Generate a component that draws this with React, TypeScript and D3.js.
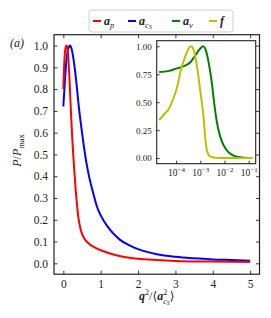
import { useEffect, useRef } from "react";
import * as d3 from "d3";

// main panel: normalised power vs q^2/<a_cS^2>
const apQ = [0, 0.02, 0.05, 0.08, 0.1, 0.13, 0.16, 0.2, 0.24, 0.28, 0.32, 0.36, 0.4, 0.45, 0.5, 0.6, 0.7, 0.85, 1.0, 1.25, 1.5, 2.0, 2.5, 3.0, 4.0, 5.0];
const apP = [0.8, 0.9, 0.98, 1.0, 0.995, 0.95, 0.86, 0.71, 0.57, 0.46, 0.36, 0.28, 0.215, 0.165, 0.135, 0.105, 0.088, 0.072, 0.06, 0.045, 0.034, 0.021, 0.015, 0.011, 0.008, 0.006];
const acsQ = [0, 0.05, 0.1, 0.15, 0.18, 0.22, 0.27, 0.33, 0.42, 0.5, 0.6, 0.7, 0.78, 0.9, 1.0, 1.2, 1.5, 1.8, 2.0, 2.5, 3.0, 3.5, 4.0, 4.5, 5.0];
const acsP = [0.72, 0.86, 0.96, 0.995, 1.0, 0.985, 0.94, 0.86, 0.71, 0.6, 0.48, 0.39, 0.335, 0.26, 0.22, 0.165, 0.11, 0.08, 0.065, 0.042, 0.03, 0.023, 0.018, 0.015, 0.012];

// inset: log10 of q^2/<a_cS^2> and normalised power
const anuLogQ = [-4.7, -4.3, -4.0, -3.7, -3.4, -3.2, -3.0, -2.88, -2.75, -2.65, -2.52, -2.43, -2.32, -2.2, -2.05, -1.85, -1.6, -1.3, -1.0, -0.85];
const anuP = [0.77, 0.78, 0.8, 0.82, 0.86, 0.92, 0.98, 1.0, 0.95, 0.85, 0.67, 0.5, 0.33, 0.21, 0.12, 0.055, 0.02, 0.006, 0.002, 0.002];
const fLogQ = [-4.7, -4.5, -4.3, -4.1, -3.95, -3.8, -3.6, -3.45, -3.37, -3.25, -3.12, -3.0, -2.87, -2.78, -2.7, -2.6, -2.45, -2.2, -1.5, -0.85];
const fP = [0.34, 0.39, 0.44, 0.54, 0.64, 0.79, 0.92, 0.99, 1.0, 0.95, 0.8, 0.6, 0.38, 0.15, 0.05, 0.015, 0.005, 0.002, 0.001, 0.001];

const mainXTicks = [0, 1, 2, 3, 4, 5];
const mainYTicks = [0, 0.1, 0.2, 0.3, 0.4, 0.5, 0.6, 0.7, 0.8, 0.9, 1.0];
const insetYTicks = [0, 0.25, 0.5, 0.75, 1.0];
const insetXTicks = [1e-4, 1e-3, 1e-2, 1e-1];
const insetXExps = ["\u22124", "\u22123", "\u22122", "\u22121"];

const FONT = "Liberation Serif, DejaVu Serif, serif";
const INK = "#222";

export default function App() {
  const svgRef = useRef<SVGSVGElement>(null);

  useEffect(() => {
    if (!svgRef.current) return;
    const svg = d3.select(svgRef.current);
    svg.selectAll("*").remove();

    const main = { left: 54, right: 259.5, top: 34.7, bottom: 274.2 };
    const inset = { left: 156.7, right: 255.7, top: 40.7, bottom: 163.7 };

    const x = d3.scaleLinear().domain([-0.25, 5.25]).range([main.left, main.right]);
    const y = d3.scaleLinear().domain([-0.05, 1.05]).range([main.bottom, main.top]);
    const xi = d3.scaleLog().domain([Math.pow(10, -4.8), Math.pow(10, -0.71)]).range([inset.left, inset.right]);
    const yi = d3.scaleLinear().domain([-0.05, 1.05]).range([inset.bottom, inset.top]);

    const defs = svg.append("defs");
    defs.append("clipPath").attr("id", "clipMain").append("rect")
      .attr("x", main.left).attr("y", main.top)
      .attr("width", main.right - main.left).attr("height", main.bottom - main.top);
    defs.append("clipPath").attr("id", "clipInset").append("rect")
      .attr("x", inset.left).attr("y", inset.top)
      .attr("width", inset.right - inset.left).attr("height", inset.bottom - inset.top);

    const styleAxis = (g: d3.Selection<SVGGElement, unknown, null, undefined>) => {
      g.attr("font-family", FONT);
      g.selectAll(".domain").remove();
      g.selectAll(".tick line").attr("stroke", INK).attr("stroke-width", 0.9);
      g.selectAll("text").attr("fill", INK).style("font-family", FONT);
    };

    // main curves
    const mainLine = d3.line<[number, number]>()
      .x((d) => x(d[0])).y((d) => y(d[1])).curve(d3.curveMonotoneX);
    const gm = svg.append("g").attr("clip-path", "url(#clipMain)");
    gm.append("path").datum(acsQ.map((q, i) => [q, acsP[i]] as [number, number]))
      .attr("d", mainLine).attr("fill", "none").attr("stroke", "#0000ff").attr("stroke-width", 2);
    gm.append("path").datum(apQ.map((q, i) => [q, apP[i]] as [number, number]))
      .attr("d", mainLine).attr("fill", "none").attr("stroke", "#ff0000").attr("stroke-width", 2);

    // main axes
    const tk = 3.5;
    svg.append("g").attr("transform", `translate(0,${main.bottom})`)
      .call(d3.axisBottom(x).tickValues(mainXTicks).tickSize(-tk).tickPadding(6).tickFormat(d3.format("d")))
      .call(styleAxis).selectAll("text").attr("font-size", 11.5);
    svg.append("g").attr("transform", `translate(0,${main.top})`)
      .call(d3.axisTop(x).tickValues(mainXTicks).tickSize(-tk).tickFormat(() => ""))
      .call(styleAxis);
    svg.append("g").attr("transform", `translate(${main.left},0)`)
      .call(d3.axisLeft(y).tickValues(mainYTicks).tickSize(-tk).tickPadding(6).tickFormat(d3.format(".1f")))
      .call(styleAxis).selectAll("text").attr("font-size", 11.5);
    svg.append("g").attr("transform", `translate(${main.right},0)`)
      .call(d3.axisRight(y).tickValues(mainYTicks).tickSize(-tk).tickFormat(() => ""))
      .call(styleAxis);
    svg.append("rect")
      .attr("x", main.left).attr("y", main.top)
      .attr("width", main.right - main.left).attr("height", main.bottom - main.top)
      .attr("fill", "none").attr("stroke", INK).attr("stroke-width", 1.2);

    // inset
    svg.append("rect")
      .attr("x", inset.left).attr("y", inset.top)
      .attr("width", inset.right - inset.left).attr("height", inset.bottom - inset.top)
      .attr("fill", "#fff");
    const insetLine = d3.line<[number, number]>()
      .x((d) => xi(d[0])).y((d) => yi(d[1])).curve(d3.curveMonotoneX);
    const gi = svg.append("g").attr("clip-path", "url(#clipInset)");
    gi.append("path").datum(anuLogQ.map((e, i) => [Math.pow(10, e), anuP[i]] as [number, number]))
      .attr("d", insetLine).attr("fill", "none").attr("stroke", "#008000").attr("stroke-width", 2);
    gi.append("path").datum(fLogQ.map((e, i) => [Math.pow(10, e), fP[i]] as [number, number]))
      .attr("d", insetLine).attr("fill", "none").attr("stroke", "#bfbf00").attr("stroke-width", 2);

    svg.append("g").attr("transform", `translate(${inset.left},0)`)
      .call(d3.axisLeft(yi).tickValues(insetYTicks).tickSize(-3).tickPadding(5).tickFormat(d3.format(".2f")))
      .call(styleAxis).selectAll("text").attr("font-size", 9);
    const gxi = svg.append("g").attr("transform", `translate(0,${inset.bottom})`)
      .call(d3.axisBottom(xi).tickValues(insetXTicks).tickSize(-3).tickFormat(() => ""))
      .call(styleAxis);
    gxi.selectAll<SVGGElement, number>(".tick").each(function (_d, i) {
      const t = d3.select(this).append("text")
        .attr("y", 12).attr("text-anchor", "middle")
        .attr("fill", INK).style("font-family", FONT).attr("font-size", 9.5);
      t.append("tspan").text("10");
      t.append("tspan").attr("dy", -4).attr("font-size", 7).text(insetXExps[i]);
    });
    svg.append("rect")
      .attr("x", inset.left).attr("y", inset.top)
      .attr("width", inset.right - inset.left).attr("height", inset.bottom - inset.top)
      .attr("fill", "none").attr("stroke", INK).attr("stroke-width", 1.1);

    // labels
    const yl = svg.append("text")
      .attr("transform", `translate(21,${(main.top + main.bottom) / 2 - 4}) rotate(-90)`)
      .attr("text-anchor", "middle").attr("fill", INK)
      .style("font-family", FONT).attr("font-size", 12);
    yl.append("tspan").attr("font-style", "italic").text("P");
    yl.append("tspan").text("/");
    yl.append("tspan").attr("font-style", "italic").text("P");
    yl.append("tspan").attr("font-size", 8.5).attr("dy", 3).text("max");

    const xl = svg.append("text")
      .attr("x", (main.left + main.right) / 2).attr("y", 300)
      .attr("text-anchor", "middle").attr("fill", INK)
      .style("font-family", FONT).attr("font-size", 12);
    xl.append("tspan").attr("font-style", "italic").attr("font-weight", "bold").text("q");
    xl.append("tspan").attr("font-size", 8).attr("dy", -5).text("2");
    xl.append("tspan").attr("dy", 5).text("/\u27E8");
    xl.append("tspan").attr("font-style", "italic").attr("font-weight", "bold").text("a");
    xl.append("tspan").attr("font-size", 8).attr("dy", -5).text("2");
    xl.append("tspan").attr("font-size", 8).attr("font-style", "italic").attr("dx", -4).attr("dy", 8.5).text("c");
    xl.append("tspan").attr("font-size", 6).attr("font-style", "italic").attr("dy", 1.5).text("S");
    xl.append("tspan").attr("dy", -5).text("\u27E9");

    svg.append("text").attr("x", 10).attr("y", 47)
      .attr("fill", INK).style("font-family", FONT).attr("font-size", 12)
      .attr("font-style", "italic").text("(a)");

    // legend
    svg.append("rect").attr("x", 89).attr("y", 10).attr("width", 144).attr("height", 22)
      .attr("rx", 3).attr("fill", "#fff").attr("stroke", "#d0d0d0").attr("stroke-width", 1);
    const entries = [
      { color: "#ff0000", x: 93, sub: "p", subsub: "" },
      { color: "#0000ff", x: 128, sub: "c", subsub: "S" },
      { color: "#008000", x: 172, sub: "\u03BD", subsub: "" },
      { color: "#bfbf00", x: 209, sub: "", subsub: "", f: true },
    ];
    entries.forEach((e) => {
      svg.append("line").attr("x1", e.x).attr("x2", e.x + 8).attr("y1", 21).attr("y2", 21)
        .attr("stroke", e.color).attr("stroke-width", 2);
      const t = svg.append("text").attr("x", e.x + 11).attr("y", 25)
        .attr("fill", INK).style("font-family", FONT).attr("font-size", 12);
      t.append("tspan").attr("font-style", "italic").attr("font-weight", "bold").text(e.f ? "f" : "a");
      if (e.sub) t.append("tspan").attr("font-style", "italic").attr("font-size", 8.5).attr("dy", 2.5).text(e.sub);
      if (e.subsub) t.append("tspan").attr("font-style", "italic").attr("font-size", 6.5).attr("dy", 1.5).text(e.subsub);
    });
  }, []);

  return (
    <div style={{ position: "absolute", left: 0, top: 0 }}>
      <svg ref={svgRef} width={271} height={318} style={{ display: "block", background: "#fff" }}></svg>
    </div>
  );
}
